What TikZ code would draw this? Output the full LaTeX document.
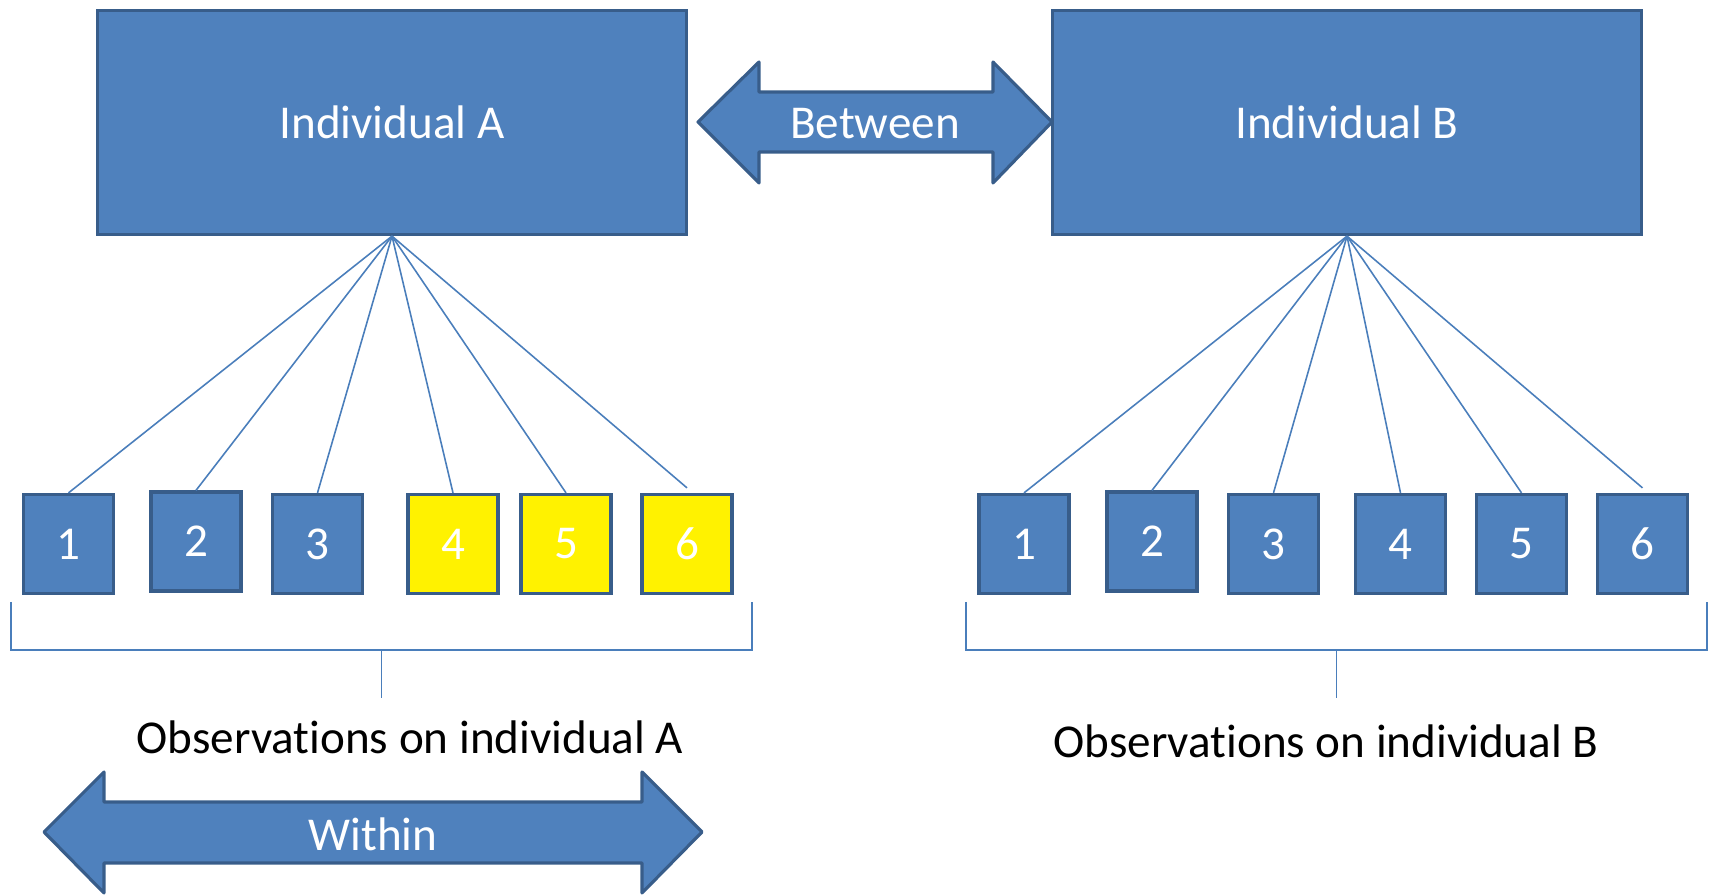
\documentclass[tikz,border=0pt]{standalone}
\usepackage{fontspec}
\setmainfont{Carlito}[Ligatures=NoCommon]
\definecolor{boxblue}{HTML}{4F81BD}
\definecolor{edgeblue}{HTML}{385D8A}
\definecolor{lineblue}{HTML}{4A7EBB}
\begin{document}
\begin{tikzpicture}[x=0.01cm,y=-0.01cm]
\tikzstyle{indiv}=[draw=edgeblue, fill=boxblue, line width=0.9pt, text=white, minimum width=5.89cm, minimum height=2.24cm]
\tikzstyle{obs}=[draw=edgeblue, fill=boxblue, line width=0.9pt, text=white, minimum width=0.90cm, minimum height=0.99cm, inner sep=0pt]
\tikzstyle{marked}=[obs, fill=yellow]
\tikzstyle{bigarrow}=[draw=edgeblue, fill=boxblue, line width=0.9pt, line join=round]
\tikzstyle{link}=[draw=lineblue, line width=0.45pt]
\fontsize{13.4}{16}\selectfont
\useasboundingbox (0,0) rectangle (1712,895);

\node [indiv] (A) at (392, 122.5) {Individual A};
\node [indiv] (B) at (1347, 122.5) {Individual B};

% between arrow
\draw [bigarrow] (698,122) -- (759,62) -- (759,92) -- (993,92) -- (993,62) -- (1052,122)
  -- (993,183) -- (993,152) -- (759,152) -- (759,183) -- cycle;
\node [text=white] (between) at (875,124) {Between};

% observations on A
\node [obs] (a1) at (68.5, 544) {1};
\node [obs] (a2) at (196, 541.5) {2};
\node [obs] (a3) at (317.5, 544) {3};
\node [marked] (a4) at (453, 544) {4};
\node [marked] (a5) at (566, 544) {5};
\node [marked] (a6) at (687, 544) {6};

% observations on B
\node [obs] (b1) at (1024, 544) {1};
\node [obs] (b2) at (1152, 541.5) {2};
\node [obs] (b3) at (1273.5, 544) {3};
\node [obs] (b4) at (1400.5, 544) {4};
\node [obs] (b5) at (1521.5, 544) {5};
\node [obs] (b6) at (1642.5, 544) {6};

\draw [link] (A.south) -- (a1.north);
\draw [link] (A.south) -- (a2.north);
\draw [link] (A.south) -- (a3.north);
\draw [link] (A.south) -- (a4.north);
\draw [link] (A.south) -- (a5.north);
\draw [link] (A.south) -- ([yshift=0.05cm]a6.north);
\draw [link] (B.south) -- (b1.north);
\draw [link] (B.south) -- (b2.north);
\draw [link] (B.south) -- (b3.north);
\draw [link] (B.south) -- (b4.north);
\draw [link] (B.south) -- (b5.north);
\draw [link] (B.south) -- ([yshift=0.05cm]b6.north);

% brackets
\draw [link] (11,602) -- (11,650) -- (752,650) -- (752,602);
\draw [link] (381.5,650) -- (381.5,698);
\draw [link] (966,602) -- (966,650) -- (1707,650) -- (1707,602);
\draw [link] (1336.5,650) -- (1336.5,698);

\node [anchor=base] (obsA) at (410,754) {Observations on individual A};
\node [anchor=base] (obsB) at (1326,758) {Observations on individual B};

% within arrow
\draw [bigarrow] (44,832) -- (104,772) -- (104,802) -- (642,802) -- (642,772) -- (702,832)
  -- (642,893) -- (642,863) -- (104,863) -- (104,893) -- cycle;
\node [text=white] (within) at (373,834) {Within};
\end{tikzpicture}
\end{document}
